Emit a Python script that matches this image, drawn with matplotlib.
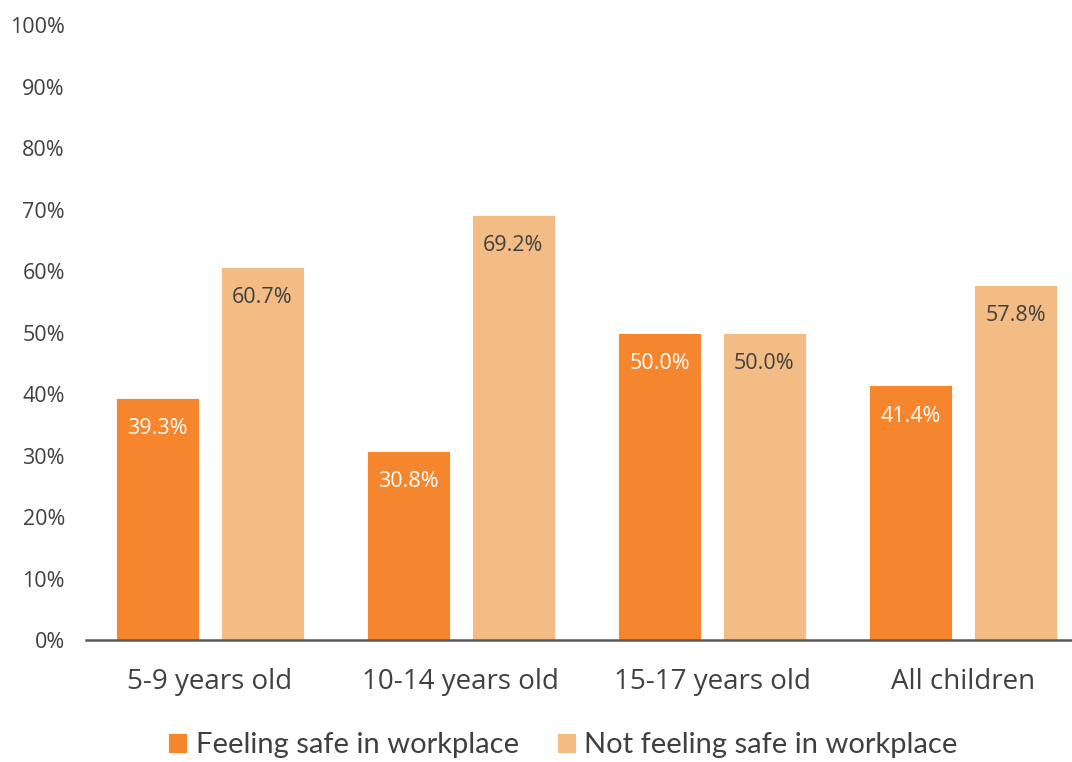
import numpy as np
import matplotlib
matplotlib.use("Agg")
import matplotlib.pyplot as plt

# age groups and shares of children (percent)
groups = ["5-9 years old", "10-14 years old", "15-17 years old", "All children"]
safe = [39.3, 30.8, 50.0, 41.4]
not_safe = [60.7, 69.2, 50.0, 57.8]
series_names = ["Feeling safe in workplace", "Not feeling safe in workplace"]

c_safe = "#F6862D"
c_not = "#F3BC85"
txt = "#404040"

plt.rcParams["font.family"] = ["Open Sans", "DejaVu Sans"]

fig = plt.figure(figsize=(10.72, 7.62), dpi=100)
ax = fig.add_axes([0.080, 0.160, 0.920, 0.807])

x = np.arange(len(groups))
w = 0.33
off = 0.209
b1 = ax.bar(x - off, safe, w, color=c_safe, edgecolor="white", linewidth=0.6,
            label=series_names[0])
b2 = ax.bar(x + off, not_safe, w, color=c_not, edgecolor="white", linewidth=0.6,
            label=series_names[1])

# value labels just inside the top of each bar
for bars, vals, col in [(b1, safe, "white"), (b2, not_safe, txt)]:
    for rect, v in zip(bars, vals):
        ax.annotate(f"{v:.1f}%", (rect.get_x() + rect.get_width() / 2, v),
                    xytext=(0, -22), textcoords="offset points",
                    ha="center", va="center", fontsize=15.5, color=col)

ax.set_ylim(0, 100)
ax.set_xlim(-0.494, 3.434)
ax.set_yticks(np.arange(0, 101, 10))
ax.set_yticklabels([f"{t}%" for t in range(0, 101, 10)])
ax.set_xticks(x)
ax.set_xticklabels(groups)

ax.tick_params(axis="y", length=0, pad=15, labelsize=15.5, labelcolor=txt)
ax.tick_params(axis="x", length=0, pad=20, labelsize=20, labelcolor=txt)

for s in ["left", "right", "top"]:
    ax.spines[s].set_visible(False)
ax.spines["bottom"].set_color("#595959")
ax.spines["bottom"].set_linewidth(1.8)

leg = fig.legend(loc="center", bbox_to_anchor=(0.525, 0.022), ncol=2,
                 frameon=False, handlelength=0.65, handleheight=0.65,
                 handletextpad=0.3, columnspacing=1.3,
                 prop={"family": ["Lato", "DejaVu Sans"], "size": 21})
for t in leg.get_texts():
    t.set_color(txt)

fig.savefig("out.png", dpi=100)
